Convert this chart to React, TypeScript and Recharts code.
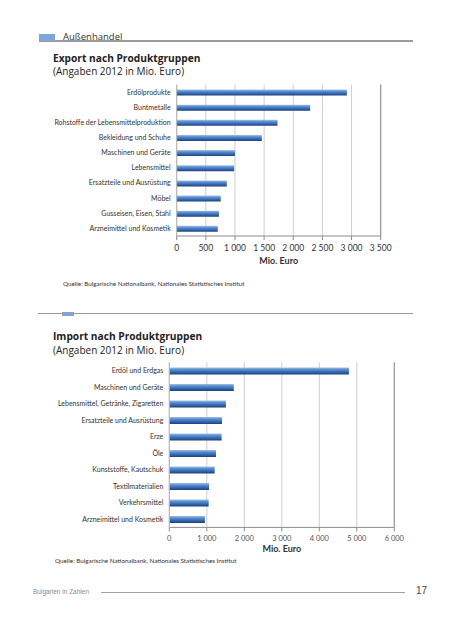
import { Bar, BarChart, CartesianGrid, ReferenceLine, XAxis, YAxis } from "recharts";

const exportCategories = [
  "Erdölprodukte",
  "Buntmetalle",
  "Rohstoffe der Lebensmittelproduktion",
  "Bekleidung und Schuhe",
  "Maschinen und Geräte",
  "Lebensmittel",
  "Ersatzteile und Ausrüstung",
  "Möbel",
  "Gusseisen, Eisen, Stahl",
  "Arzneimittel und Kosmetik",
];
const exportValues = [2920, 2290, 1730, 1460, 1000, 985, 860, 755, 725, 705];
const exportTicks = [0, 500, 1000, 1500, 2000, 2500, 3000, 3500];

const importCategories = [
  "Erdöl und Erdgas",
  "Maschinen und Geräte",
  "Lebensmittel, Getränke, Zigaretten",
  "Ersatzteile und Ausrüstung",
  "Erze",
  "Öle",
  "Kunststoffe, Kautschuk",
  "Textilmaterialien",
  "Verkehrsmittel",
  "Arzneimittel und Kosmetik",
];
const importValues = [4790, 1720, 1510, 1405, 1395, 1245, 1210, 1060, 1050, 950];
const importTicks = [0, 1000, 2000, 3000, 4000, 5000, 6000];

const LABEL_FONT = "Lato, 'Open Sans', sans-serif";
const TITLE_FONT = "'Open Sans', 'Liberation Sans', sans-serif";

const fmt = (v: number) => String(v).replace(/\B(?=(\d{3})+(?!\d))/g, " ");

function Txt({ x, y, size, children, bold, color = "#222", family = TITLE_FONT }: any) {
  return (
    <div
      style={{
        position: "absolute",
        left: x,
        top: y - size * 0.6,
        fontSize: size,
        lineHeight: `${size * 1.2}px`,
        fontWeight: bold ? 700 : 400,
        color,
        fontFamily: family,
        whiteSpace: "nowrap",
      }}
    >
      {children}
    </div>
  );
}

// Kategorie-Beschriftung ohne Zeilenumbruch
function CatTick({ x, y, payload }: any) {
  return (
    <text x={x} y={y} dy="0.35em" textAnchor="end" fontSize={7} fill="#333" fontFamily={LABEL_FONT}>
      {payload.value}
    </text>
  );
}

function ProductChart({
  id,
  categories,
  values,
  ticks,
  top,
  plotLeft,
  plotRight,
  plotTop,
  plotHeight,
  barSize,
  tickFont,
  tickColor,
  tickMargin,
  labelOffset,
}: any) {
  const data = categories.map((name: string, i: number) => ({ name, value: values[i] }));
  const axisH = 30;
  const width = 452;
  return (
    <div style={{ position: "absolute", left: 0, top }}>
      <BarChart
        width={width}
        height={plotTop + plotHeight + axisH}
        data={data}
        layout="vertical"
        margin={{ top: plotTop, right: width - plotRight, bottom: 0, left: 0 }}
        barCategoryGap={0}
      >
        <defs>
          <linearGradient id={id} x1="0" y1="0" x2="0" y2="1">
            <stop offset="0%" stopColor="#a3c2ea" />
            <stop offset="30%" stopColor="#5b8fd2" />
            <stop offset="65%" stopColor="#3669b0" />
            <stop offset="100%" stopColor="#1b437e" />
          </linearGradient>
        </defs>
        <CartesianGrid horizontal={false} stroke="#cfcfcf" />
        <XAxis
          type="number"
          domain={[0, ticks[ticks.length - 1]]}
          ticks={ticks}
          tickFormatter={fmt}
          height={axisH}
          interval={0}
          axisLine={{ stroke: "#8c8c8c" }}
          tickLine={{ stroke: "#8c8c8c" }}
          tickSize={4}
          tickMargin={tickMargin}
          tick={{ fontSize: tickFont, fill: tickColor, fontFamily: LABEL_FONT }}
          label={{
            value: "Mio. Euro",
            position: "insideBottom",
            offset: labelOffset,
            style: { fontSize: 9, fontWeight: 700, fill: "#333", fontFamily: LABEL_FONT },
          }}
        />
        <YAxis
          type="category"
          dataKey="name"
          width={plotLeft}
          interval={0}
          axisLine={{ stroke: "#b5b5b5" }}
          tickLine={false}
          tickSize={4}
          tickMargin={2}
          tick={<CatTick />}
        />
        <ReferenceLine x={ticks[ticks.length - 1]} stroke="#8c8c8c" />
        <Bar dataKey="value" fill={`url(#${id})`} barSize={barSize} isAnimationActive={false} />
      </BarChart>
    </div>
  );
}

export default function App() {
  return (
    <div
      style={{
        position: "absolute",
        left: 0,
        top: 0,
        width: 452,
        height: 640,
        background: "#fff",
        overflow: "hidden",
      }}
    >
      {/* Kopfzeile */}
      <div style={{ position: "absolute", left: 39, top: 40, width: 374, height: 1.5, background: "#9a9a9a" }} />
      <div style={{ position: "absolute", left: 39, top: 34, width: 16, height: 7, background: "#7fa6d6" }} />
      <Txt x={63} y={37} size={9.5} color="#333">Außenhandel</Txt>

      <Txt x={53} y={58} size={10.2} bold>Export nach Produktgruppen</Txt>
      <Txt x={53} y={71} size={10}>(Angaben 2012 in Mio. Euro)</Txt>

      <ProductChart
        id="gradExport"
        categories={exportCategories}
        values={exportValues}
        ticks={exportTicks}
        top={80}
        plotLeft={176.7}
        plotRight={380.7}
        plotTop={4.5}
        plotHeight={151.5}
        barSize={6}
        tickFont={8.5}
        tickColor="#333"
        tickMargin={4.5}
        labelOffset={2}
      />
      <Txt x={63} y={284} size={6.3} color="#333" family={LABEL_FONT}>
        Quelle: Bulgarische Nationalbank, Nationales Statistisches Institut
      </Txt>

      <div style={{ position: "absolute", left: 38, top: 313, width: 375, height: 1, background: "#9a9a9a" }} />
      <div style={{ position: "absolute", left: 62, top: 311.5, width: 11.5, height: 4.5, background: "#7fa6d6" }} />

      <Txt x={53} y={336} size={10.2} bold>Import nach Produktgruppen</Txt>
      <Txt x={53} y={350} size={10}>(Angaben 2012 in Mio. Euro)</Txt>

      <ProductChart
        id="gradImport"
        categories={importCategories}
        values={importValues}
        ticks={importTicks}
        top={355}
        plotLeft={169.3}
        plotRight={394.3}
        plotTop={7.4}
        plotHeight={165}
        barSize={7}
        tickFont={7.5}
        tickColor="#555"
        tickMargin={4}
        labelOffset={5}
      />
      <Txt x={55} y={560.7} size={6.3} color="#333" family={LABEL_FONT}>
        Quelle: Bulgarische Nationalbank, Nationales Statistisches Institut
      </Txt>

      {/* Fußzeile */}
      <Txt x={33} y={591.5} size={6.5} color="#8a8a8a" family="'Liberation Sans', sans-serif">
        Bulgarien in Zahlen
      </Txt>
      <div style={{ position: "absolute", left: 101, top: 592, width: 304, height: 1, background: "#a0a0a0" }} />
      <Txt x={416} y={591} size={10} color="#444" family="'Liberation Sans', sans-serif">
        17
      </Txt>
    </div>
  );
}
